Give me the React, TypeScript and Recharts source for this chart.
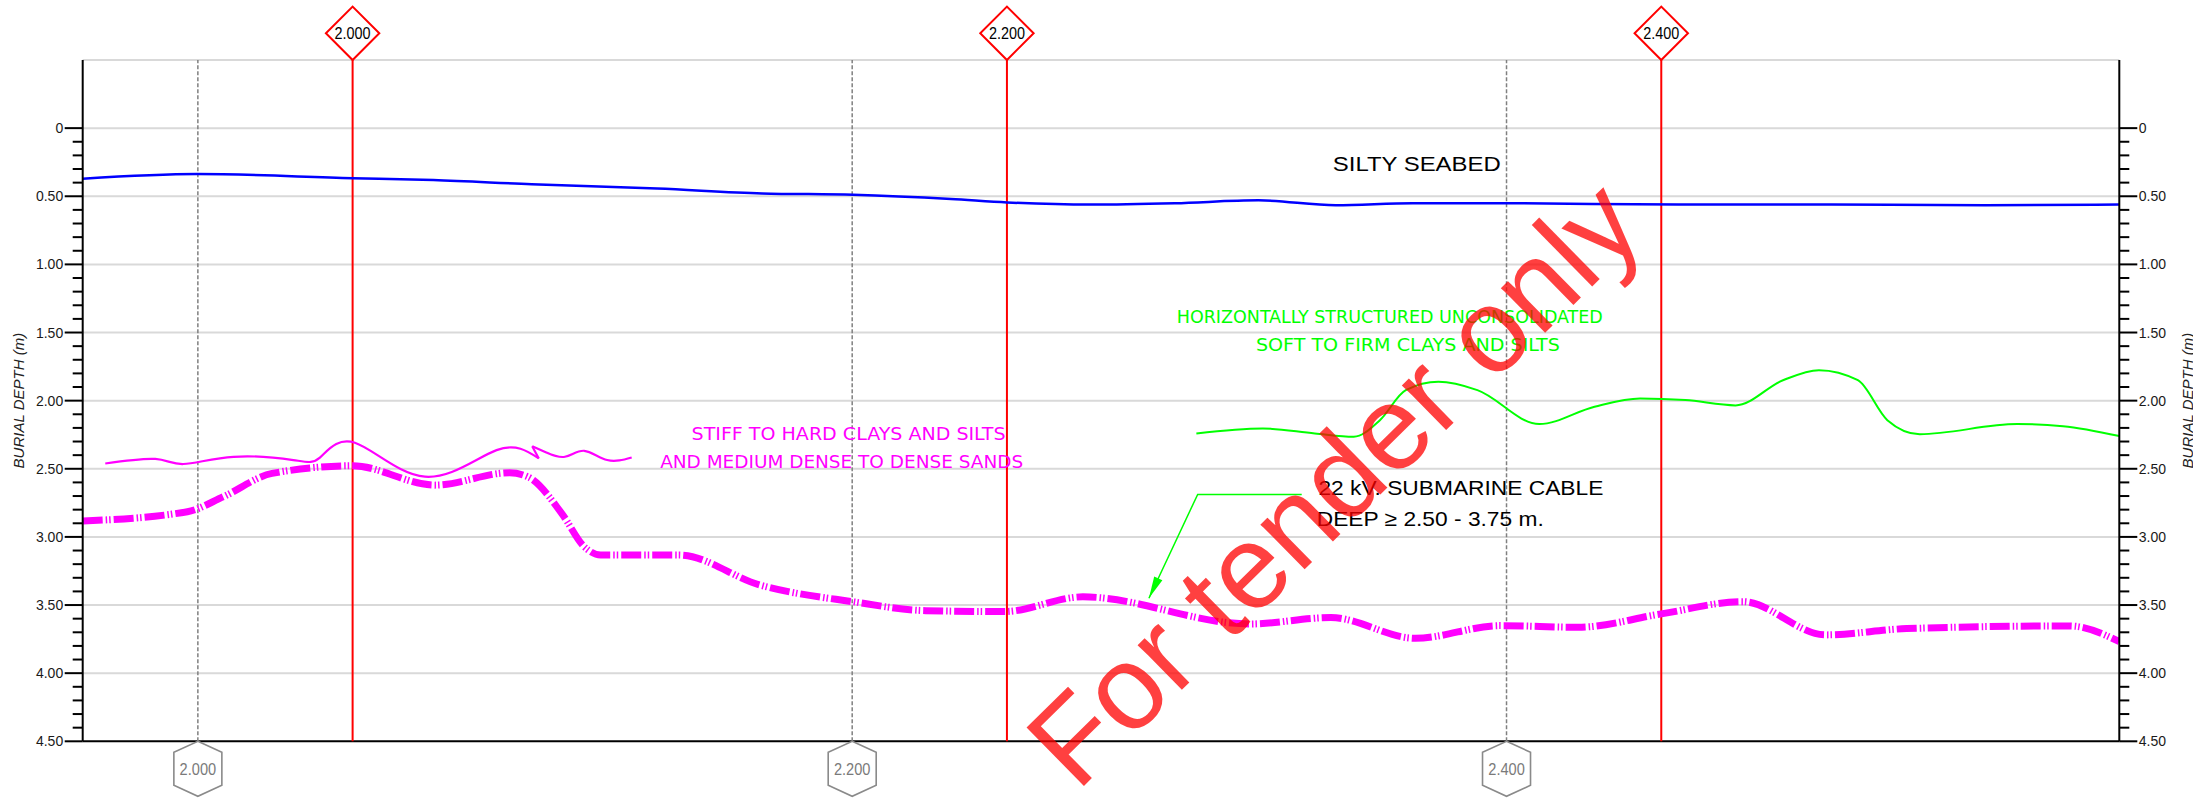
import React from 'react';
import { ComposedChart, Line, XAxis, YAxis, ReferenceLine, ReferenceDot } from 'recharts';

const FONT = '"Liberation Sans", Arial, sans-serif';
const NARROW = '"Liberation Sans Narrow", "DejaVu Sans Condensed", "Liberation Sans", Arial, sans-serif';

// chainage axis (m) and burial depth axis (m, positive downwards)
const kpDomain = [1964.8, 2587.3];
const depthDomain = [-0.5, 4.5];

// gray profile stations (bottom hexagons) and red KP marks (top diamonds)
const stationKP = [2000, 2200, 2400];
const stationLabels = ['2.000', '2.200', '2.400'];
const kpMarks = [2047.3, 2247.3, 2447.3];
const kpLabels = ['2.000', '2.200', '2.400'];

const majorTicks = [0, 0.5, 1, 1.5, 2, 2.5, 3, 3.5, 4, 4.5];
const majorLabels = ['0', '0.50', '1.00', '1.50', '2.00', '2.50', '3.00', '3.50', '4.00', '4.50'];
const minorTicks = Array.from({ length: 46 }, (_, i) => i / 10);
const gridDepths = [-0.5, 0, 0.5, 1, 1.5, 2, 2.5, 3, 3.5, 4];

// seabed (blue)
const seabedKP = [1964.8, 1999.8, 2047.3, 2072, 2102, 2140.4, 2172.5, 2200.3, 2230.2, 2247.3, 2272.9, 2298.6, 2324.2, 2347.8, 2371.3, 2399.5, 2452.5, 2495.2, 2546.5, 2587.3];
const seabedDepth = [0.371, 0.337, 0.367, 0.381, 0.412, 0.443, 0.479, 0.489, 0.52, 0.545, 0.561, 0.551, 0.53, 0.566, 0.551, 0.551, 0.561, 0.561, 0.566, 0.561];

// 22 kV cable (thick magenta)
const cableKP = [1964.8, 1996.8, 2007.8, 2022.7, 2047.3, 2072.4, 2095.3, 2101.2, 2111.2, 2118.1, 2123.1, 2147, 2171.8, 2200, 2222.5, 2246.4, 2270.5, 2321.5, 2346.3, 2372.2, 2398, 2421.9, 2447.3, 2472.2, 2497.5, 2522.3, 2572, 2587.3];
const cableDepth = [2.883, 2.815, 2.705, 2.534, 2.478, 2.62, 2.529, 2.563, 2.827, 3.072, 3.133, 3.133, 3.353, 3.475, 3.541, 3.548, 3.44, 3.639, 3.592, 3.744, 3.651, 3.663, 3.565, 3.475, 3.719, 3.673, 3.653, 3.768];

// stiff clays boundary (thin magenta), drawn in three pieces because of the hook
const stiffAKP = [1971.7, 1987, 1995.6, 2010.9, 2029.2, 2037.3, 2048, 2069.4, 2091.3, 2104.2];
const stiffADepth = [2.461, 2.428, 2.465, 2.412, 2.436, 2.418, 2.309, 2.558, 2.363, 2.424];
const stiffHookKP = [2104.2, 2102.2];
const stiffHookDepth = [2.424, 2.334];
const stiffBKP = [2102.2, 2106.5, 2112.2, 2118.1, 2125.1, 2132.6];
const stiffBDepth = [2.334, 2.38, 2.412, 2.368, 2.436, 2.417];

// soft clays boundary (green)
const softKP = [2305.2, 2325.5, 2341.4, 2353.3, 2361.3, 2369.2, 2379.2, 2391.1, 2410, 2426.9, 2440.8, 2454.7, 2470, 2484.5, 2495.5, 2507.4, 2516.4, 2526.3, 2556.1, 2570.1, 2587.3];
const softDepth = [2.241, 2.204, 2.241, 2.265, 2.143, 1.923, 1.862, 1.923, 2.172, 2.045, 1.984, 1.996, 2.035, 1.85, 1.776, 1.85, 2.143, 2.246, 2.172, 2.187, 2.26];

// leader from cable note to cable
const leaderKP = [2337.4, 2305.6, 2290.7];
const leaderDepth = [2.688, 2.688, 3.45];

const toRows = (xs: number[], ys: number[]) => xs.map((x, i) => ({ x, y: ys[i] }));

const DepthTick = (props: any) => {
  const { x, y, payload, side } = props;
  const v = payload.value;
  const idx = majorTicks.findIndex((m) => Math.abs(m - v) < 1e-6);
  const dir = side === 'left' ? -1 : 1;
  const len = idx >= 0 ? 18 : 10;
  return (
    <g>
      <line x1={x} y1={y} x2={x + dir * len} y2={y} stroke="#000" strokeWidth={2} />
      {idx >= 0 && (
        <text
          x={x + dir * 19.5}
          y={y}
          textAnchor={side === 'left' ? 'end' : 'start'}
          dominantBaseline="central"
          fontSize={14}
          fontFamily={FONT}
          fill="#1a1a1a"
        >
          {majorLabels[idx]}
        </text>
      )}
    </g>
  );
};

const AxisTitle = (props: any) => {
  const { viewBox, side } = props;
  const cx = side === 'left' ? viewBox.x - 4.2 : viewBox.x + 68.5;
  const cy = viewBox.y + viewBox.height / 2;
  return (
    <text
      x={cx}
      y={cy}
      transform={`rotate(-90 ${cx} ${cy})`}
      textAnchor="middle"
      dominantBaseline="central"
      fontSize={15}
      fontStyle="italic"
      fontFamily={FONT}
      fill="#222"
    >
      BURIAL DEPTH (m)
    </text>
  );
};

const Diamond = (props: any) => {
  const { viewBox, text } = props;
  const cx = viewBox.x;
  const top = viewBox.y;
  const r = 26.7;
  const cy = top - r;
  return (
    <g>
      <polygon
        points={`${cx},${top} ${cx + r},${cy} ${cx},${cy - r} ${cx - r},${cy}`}
        fill="#fff"
        stroke="#ff0000"
        strokeWidth={2}
      />
      <text
        x={cx}
        y={cy}
        textAnchor="middle"
        dominantBaseline="central"
        fontSize={16}
        fontFamily={FONT}
        textLength={36}
        lengthAdjust="spacingAndGlyphs"
        fill="#000"
      >
        {text}
      </text>
    </g>
  );
};

const Hexagon = (props: any) => {
  const { viewBox, text } = props;
  const cx = viewBox.x;
  const top = viewBox.y + viewBox.height;
  const hw = 24;
  const pts = [
    [cx, top],
    [cx + hw, top + 11],
    [cx + hw, top + 44],
    [cx, top + 55],
    [cx - hw, top + 44],
    [cx - hw, top + 11],
  ];
  return (
    <g>
      <polygon points={pts.map((p) => p.join(',')).join(' ')} fill="#fff" stroke="#8a8a8a" strokeWidth={1.6} />
      <text
        x={cx}
        y={top + 28}
        textAnchor="middle"
        dominantBaseline="central"
        fontSize={16}
        fontFamily={FONT}
        textLength={36.5}
        lengthAdjust="spacingAndGlyphs"
        fill="#7a7a7a"
      >
        {text}
      </text>
    </g>
  );
};

const Note = (props: any) => {
  const { cx, cy, text, color, len, size, family } = props;
  return (
    <text
      x={cx}
      y={cy}
      fill={color}
      fontSize={size}
      fontFamily={family}
      textLength={len}
      lengthAdjust="spacingAndGlyphs"
      dominantBaseline="central"
    >
      {text}
    </text>
  );
};

const leaderPts: number[][] = [];
const LeaderDot = (p: any) => {
  leaderPts[p.index] = [p.cx, p.cy];
  const prev = leaderPts[p.index - 1];
  if (p.index !== leaderKP.length - 1 || !prev) return <g key={`ld${p.index}`} />;
  const ang = Math.atan2(p.cy - prev[1], p.cx - prev[0]);
  const L = 22;
  const hw = 4.5;
  const bx = p.cx - L * Math.cos(ang);
  const by = p.cy - L * Math.sin(ang);
  const nx = -Math.sin(ang) * hw;
  const ny = Math.cos(ang) * hw;
  return (
    <polygon key={`ld${p.index}`} points={`${p.cx},${p.cy} ${bx + nx},${by + ny} ${bx - nx},${by - ny}`} fill="#00ff00" />
  );
};

const Watermark = (props: any) => {
  const { cx, cy } = props;
  return (
    <text
      x={cx}
      y={cy}
      transform={`rotate(-44.5 ${cx} ${cy})`}
      fontSize={119}
      fontFamily={FONT}
      fill="#ff0000"
      fillOpacity={0.75}
    >
      For tender only
    </text>
  );
};

export default function App() {
  return (
    <div style={{ position: 'absolute', left: 0, top: 0, width: 2193, height: 799, background: '#fff' }}>
      <ComposedChart width={2193} height={799} margin={{ top: 60, right: 13.7, bottom: 57.7, left: 22.7 }}>
        <XAxis type="number" dataKey="x" domain={kpDomain} allowDataOverflow hide />
        <YAxis
          yAxisId="left"
          type="number"
          domain={depthDomain}
          reversed
          allowDataOverflow
          width={60}
          ticks={minorTicks}
          interval={0}
          tickSize={0}
          tickMargin={0}
          tickLine={false}
          tick={<DepthTick side="left" />}
          axisLine={{ stroke: '#000', strokeWidth: 2 }}
          label={<AxisTitle side="left" />}
        />
        <YAxis
          yAxisId="right"
          orientation="right"
          type="number"
          domain={depthDomain}
          reversed
          allowDataOverflow
          width={60}
          ticks={minorTicks}
          interval={0}
          tickSize={0}
          tickMargin={0}
          tickLine={false}
          tick={<DepthTick side="right" />}
          axisLine={{ stroke: '#000', strokeWidth: 2 }}
          label={<AxisTitle side="right" />}
        />

        {gridDepths.map((d) => (
          <ReferenceLine key={`g${d}`} yAxisId="left" y={d} stroke="#d9d9d9" strokeWidth={2} />
        ))}
        <ReferenceLine yAxisId="left" y={4.5} stroke="#000" strokeWidth={2} />

        {stationKP.map((kp, i) => (
          <ReferenceLine
            key={`s${kp}`}
            yAxisId="left"
            x={kp}
            stroke="#808080"
            strokeWidth={1.5}
            strokeDasharray="4 2"
            label={<Hexagon text={stationLabels[i]} />}
          />
        ))}
        {kpMarks.map((kp, i) => (
          <ReferenceLine
            key={`k${kp}`}
            yAxisId="left"
            x={kp}
            stroke="#ff0000"
            strokeWidth={2}
            label={<Diamond text={kpLabels[i]} />}
          />
        ))}

        <Line yAxisId="left" data={toRows(seabedKP, seabedDepth)} dataKey="y" type="monotone" stroke="#0000ff" strokeWidth={2.5} dot={false} isAnimationActive={false} />
        <Line yAxisId="left" data={toRows(stiffAKP, stiffADepth)} dataKey="y" type="natural" stroke="#ff00ff" strokeWidth={2.2} dot={false} isAnimationActive={false} />
        <Line yAxisId="left" data={toRows(stiffHookKP, stiffHookDepth)} dataKey="y" type="linear" stroke="#ff00ff" strokeWidth={2.2} dot={false} isAnimationActive={false} />
        <Line yAxisId="left" data={toRows(stiffBKP, stiffBDepth)} dataKey="y" type="natural" stroke="#ff00ff" strokeWidth={2.2} dot={false} isAnimationActive={false} />
        <Line yAxisId="left" data={toRows(softKP, softDepth)} dataKey="y" type="monotone" stroke="#00ff00" strokeWidth={2} dot={false} isAnimationActive={false} />
        <Line yAxisId="left" data={toRows(cableKP, cableDepth)} dataKey="y" type="monotone" stroke="#ff00ff" strokeWidth={7} strokeDasharray="20 3 1.5 2 1.5 3" dot={false} isAnimationActive={false} />
        <Line yAxisId="left" data={toRows(leaderKP, leaderDepth)} dataKey="y" type="linear" stroke="#00ff00" strokeWidth={1.5} dot={LeaderDot} isAnimationActive={false} />

        <ReferenceDot yAxisId="left" x={2346.9} y={0.263} r={1} shape={(p: any) => <Note {...p} text="SILTY  SEABED" color="#000" len={168} size={20} family={FONT} />} />
        <ReferenceDot yAxisId="left" x={2150.9} y={2.241} r={1} shape={(p: any) => <Note {...p} text="STIFF TO HARD CLAYS AND SILTS" color="#ff00ff" len={314} size={18.5} family={NARROW} />} />
        <ReferenceDot yAxisId="left" x={2141.3} y={2.445} r={1} shape={(p: any) => <Note {...p} text="AND MEDIUM DENSE TO DENSE SANDS" color="#ff00ff" len={363} size={18.5} family={NARROW} />} />
        <ReferenceDot yAxisId="left" x={2299.2} y={1.383} r={1} shape={(p: any) => <Note {...p} text="HORIZONTALLY STRUCTURED UNCONSOLIDATED" color="#00ff00" len={426} size={18} family={NARROW} />} />
        <ReferenceDot yAxisId="left" x={2323.4} y={1.588} r={1} shape={(p: any) => <Note {...p} text="SOFT TO FIRM CLAYS AND SILTS" color="#00ff00" len={304} size={18} family={NARROW} />} />
        <ReferenceDot yAxisId="left" x={2342.5} y={2.638} r={1} shape={(p: any) => <Note {...p} text="22 kV. SUBMARINE CABLE" color="#000" len={285} size={21} family={FONT} />} />
        <ReferenceDot yAxisId="left" x={2342} y={2.867} r={1} shape={(p: any) => <Note {...p} text="DEEP ≥ 2.50 - 3.75 m." color="#000" len={227} size={21} family={FONT} />} />

        <ReferenceDot yAxisId="left" x={2268.7} y={4.878} r={1} ifOverflow="visible" shape={(p: any) => <Watermark {...p} />} />
      </ComposedChart>
    </div>
  );
}
